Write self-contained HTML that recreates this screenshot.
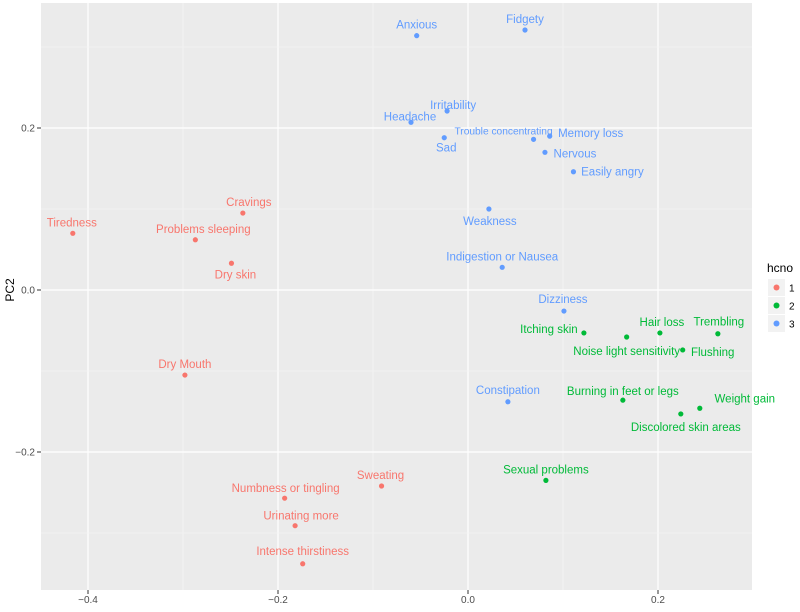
<!DOCTYPE html>
<html><head><meta charset="utf-8"><style>
body{margin:0;background:#fff;width:800px;height:607px;overflow:hidden}
text{font-family:"Liberation Sans",sans-serif}
</style></head><body>
<svg id="chart" width="800" height="607" xmlns="http://www.w3.org/2000/svg">
<rect x="41" y="3" width="711" height="587" fill="#EBEBEB"/>
<g id="grid"></g><g id="pts"></g><g id="axes"></g>
<text transform="translate(14,290) rotate(-90)" text-anchor="middle" font-size="12" fill="#000">PC2</text>
<g>
<text x="767" y="272" font-size="12" fill="#000">hcno</text>
<rect x="768" y="279" width="17" height="17" fill="#F2F2F2"/><circle cx="776.5" cy="287.5" r="3" fill="#F8766D"/>
<text x="789" y="291.5" font-size="10" fill="#000">1</text>
<rect x="768" y="297" width="17" height="17" fill="#F2F2F2"/><circle cx="776.5" cy="305.5" r="3" fill="#00BA38"/>
<text x="789" y="309.5" font-size="10" fill="#000">2</text>
<rect x="768" y="315" width="17" height="17" fill="#F2F2F2"/><circle cx="776.5" cy="323.5" r="3" fill="#619CFF"/>
<text x="789" y="327.5" font-size="10" fill="#000">3</text>
</g>
</svg>
<script>
const labels=["Anxious","Fidgety","Irritability","Headache","Trouble concentrating","Memory loss","Sad","Nervous","Easily angry","Weakness","Indigestion or Nausea","Dizziness","Constipation","Tiredness","Cravings","Problems sleeping","Dry skin","Dry Mouth","Sweating","Numbness or tingling","Urinating more","Intense thirstiness","Itching skin","Hair loss","Trembling","Noise light sensitivity","Flushing","Burning in feet or legs","Weight gain","Discolored skin areas","Sexual problems"];
const pc1=[-0.054,0.060,-0.022,-0.060,0.069,0.086,-0.025,0.081,0.111,0.022,0.036,0.101,0.042,-0.416,-0.237,-0.287,-0.249,-0.298,-0.091,-0.193,-0.182,-0.174,0.122,0.202,0.263,0.167,0.226,0.163,0.244,0.224,0.082];
const pc2=[0.314,0.321,0.221,0.207,0.186,0.190,0.188,0.170,0.146,0.100,0.028,-0.026,-0.138,0.070,0.095,0.062,0.033,-0.105,-0.242,-0.257,-0.291,-0.338,-0.053,-0.053,-0.054,-0.058,-0.074,-0.136,-0.146,-0.153,-0.235];
const cluster=[3,3,3,3,3,3,3,3,3,3,3,3,3,1,1,1,1,1,1,1,1,1,2,2,2,2,2,2,2,2,2];
const xTicks=[-0.4,-0.2,0.0,0.2];
const yTicks=[-0.2,0.0,0.2];
// label placement offsets (style, px)
const ldx=[0,0,6,-1,-30,41,2,30,39,1,0,-1,0,-1,6,8,4,0,-1,1,6,0,-35,2,1,0,30,0,45,5,0];
const ldy=[-11,-11,-6,-6,-9,-3,10,1,0,12,-11,-12,-12,-11,-11,-11,11,-11,-11,-10,-10,-13,-4,-11,-12,14,2,-9,-10,13,-11];
const fsz=[11.5,11.5,11.5,11.5,10.2,11.5,11.5,11.5,11.5,11.5,11.5,11.5,11.5,11.5,11.5,11.5,11.5,11.5,11.5,11.5,11.5,11.5,11.5,11.5,11.5,11.5,11.5,11.5,11.5,11.5,11.5];
const colors={1:"#F8766D",2:"#00BA38",3:"#619CFF"};
const X=v=>468+v*950, Y=v=>290-v*810;
const NS="http://www.w3.org/2000/svg";
function mk(p,t,a){const e=document.createElementNS(NS,t);for(const k in a)e.setAttribute(k,a[k]);p.appendChild(e);return e;}
const g=document.getElementById('grid'),ax=document.getElementById('axes'),pts=document.getElementById('pts');
for(let i=0;i<xTicks.length;i++){const v=xTicks[i];
 for(const m of [v-0.1,v+0.1]){const x=X(m);if(x>41&&x<752){const l=mk(g,'line',{x1:x,x2:x,y1:3,y2:590,stroke:'#F5F5F5','stroke-width':0.6});}}
 const l=mk(g,'line',{x1:X(v),x2:X(v),y1:3,y2:590,stroke:'#fff','stroke-width':1.2});
 
 mk(ax,'line',{x1:X(v),x2:X(v),y1:590,y2:594,stroke:'#333'});
 const t=mk(ax,'text',{x:X(v),y:603,'text-anchor':'middle','font-size':10,fill:'#4D4D4D'});t.textContent=(v<0?'\u2212':'')+Math.abs(v).toFixed(1);
 }
for(const m of [-0.3,-0.1,0.1,0.3]){const l=mk(g,'line',{x1:41,x2:752,y1:Y(m),y2:Y(m),stroke:'#F5F5F5','stroke-width':0.6});}
for(const v of yTicks){
 const l=mk(g,'line',{x1:41,x2:752,y1:Y(v),y2:Y(v),stroke:'#fff','stroke-width':1.2});
 
 mk(ax,'line',{x1:37,x2:41,y1:Y(v),y2:Y(v),stroke:'#333'});
 const t=mk(ax,'text',{x:35,y:Y(v)+3.5,'text-anchor':'end','font-size':10,fill:'#4D4D4D'});t.textContent=(v<0?'\u2212':'')+Math.abs(v).toFixed(1);
 }
for(let i=0;i<labels.length;i++){
 const c=colors[cluster[i]],x=X(pc1[i]),y=Y(pc2[i]);
 const p=mk(pts,'circle',{cx:x,cy:y,r:2.6,fill:c});
 
 
 const t=mk(pts,'text',{x:x+ldx[i],y:y+ldy[i]+4,'text-anchor':'middle','font-size':fsz[i],fill:c});t.textContent=labels[i];
 
 }
</script>
</body></html>
